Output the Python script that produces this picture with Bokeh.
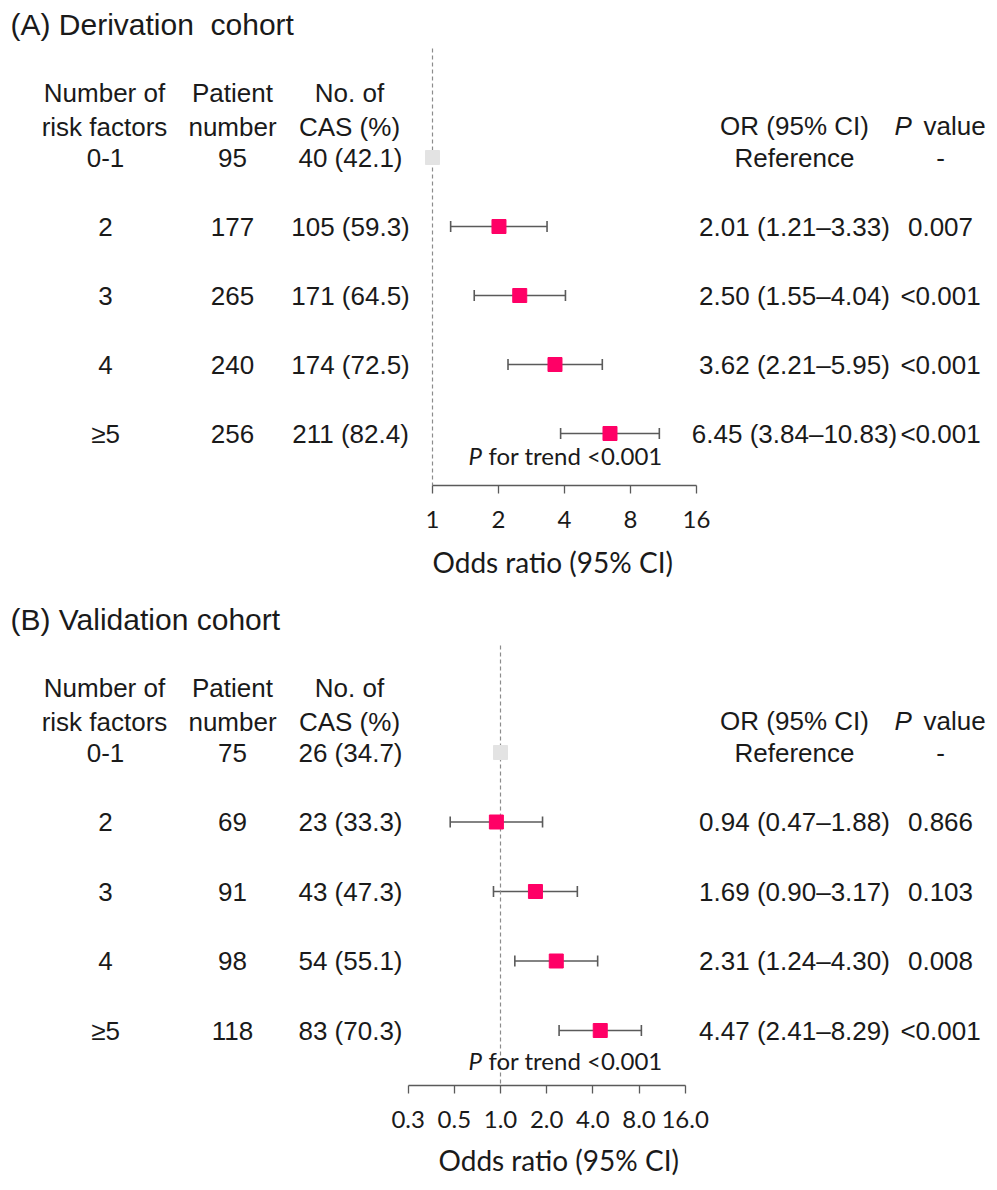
from bokeh.plotting import figure
from bokeh.layouts import column
from bokeh.models import (ColumnDataSource, Range1d, FixedTicker, Title,
                          CustomJSTickFormatter, Whisker, TeeHead)
from bokeh.core.properties import value
from bokeh.embed import file_html
from bokeh.resources import INLINE

# ---- data -------------------------------------------------------------
groups = ["0-1", "2", "3", "4", "≥5"]

der_patients = [95, 177, 265, 240, 256]
der_cas = [40, 105, 171, 174, 211]
der_cas_pct = [42.1, 59.3, 64.5, 72.5, 82.4]
der_or = [1.0, 2.01, 2.50, 3.62, 6.45]
der_lo = [None, 1.21, 1.55, 2.21, 3.84]
der_hi = [None, 3.33, 4.04, 5.95, 10.83]
der_p = ["-", "0.007", "<0.001", "<0.001", "<0.001"]

val_patients = [75, 69, 91, 98, 118]
val_cas = [26, 23, 43, 54, 83]
val_cas_pct = [34.7, 33.3, 47.3, 55.1, 70.3]
val_or = [1.0, 0.94, 1.69, 2.31, 4.47]
val_lo = [None, 0.47, 0.90, 1.24, 2.41]
val_hi = [None, 1.88, 3.17, 4.30, 8.29]
val_p = ["-", "0.866", "0.103", "0.008", "<0.001"]

der_ticks = [1, 2, 4, 8, 16]
val_ticks = [0.25, 0.5, 1, 2, 4, 8, 16]

# ---- styling / layout constants --------------------------------------
W = 997
ROW0 = 157          # pixel offset of the first row from the panel top
ARIAL = "Liberation Sans"
CAL = "Lato"
TXT = "#1a1a1a"
BODY = "26px"
PINK = "#ff0066"
REF_GREY = "#e3e3e3"
BAR = "#5a5a5a"


def panel(title, patients, cas, pct, ors, lo, hi, pvals, ticks, tick_code,
          one_px, px_per_doubling, frame_h, border_b, row_px, trend_px,
          dash_px, label_left, label_standoff):
    lo2 = -one_px / px_per_doubling
    hi2 = (W - one_px) / px_per_doubling

    def sx(px):
        # data x for a horizontal pixel position in the frame
        return 2 ** (lo2 + px / px_per_doubling)

    def ry(px):
        # row coordinate for a vertical pixel position in the frame
        return (px - ROW0) / row_px

    y_bottom = ry(frame_h)
    p = figure(frame_width=W, frame_height=frame_h, x_axis_type="log",
               x_range=Range1d(2 ** lo2, 2 ** hi2),
               y_range=Range1d(y_bottom, ry(0)),
               y_axis_location=None, output_backend="svg",
               toolbar_location=None, min_border_left=0, min_border_right=0,
               min_border_top=0, min_border_bottom=border_b,
               outline_line_color=None, background_fill_color="white")
    p.grid.visible = False

    rows = list(range(len(groups)))

    # reference line at OR = 1
    p.segment(x0=[1], x1=[1], y0=[ry(dash_px)], y1=[y_bottom],
              line_color="#8c8c8c", line_width=1.2, line_dash="4 3")

    # confidence intervals
    ci_rows = [r for r in rows if lo[r] is not None]
    ci = ColumnDataSource(dict(y=ci_rows, lo=[lo[r] for r in ci_rows],
                               hi=[hi[r] for r in ci_rows]))
    whisk = Whisker(base="y", lower="lo", upper="hi", dimension="width",
                    source=ci, line_color=BAR, line_width=1.6,
                    upper_head=TeeHead(size=11, line_color=BAR, line_width=1.6),
                    lower_head=TeeHead(size=11, line_color=BAR, line_width=1.6))
    p.add_layout(whisk)

    # point estimates
    colors = [REF_GREY if lo[r] is None else PINK for r in rows]
    p.scatter(x=ors, y=rows, marker="square", size=14, fill_color=colors,
              line_color=colors)

    # table text
    def col(px, texts, ys, align="center", size=BODY, font=ARIAL, style="normal"):
        p.text(x=[sx(px)] * len(texts), y=ys, text=texts, text_font=value(font),
               text_font_size=size, text_font_style=style, text_align=align,
               text_baseline="middle", text_color=TXT)

    col(10, [title], [ry(24)], align="left", size="30px")
    col(104, ["Number of", "risk factors"], [ry(92), ry(126)])
    col(232, ["Patient", "number"], [ry(92), ry(126)])
    col(349, ["No. of", "CAS (%)"], [ry(92), ry(126)])
    col(794, ["OR (95% CI)"], [ry(125)])
    col(894, ["P"], [ry(125)], align="left", style="italic")
    col(923, ["value"], [ry(125)], align="left")

    or_text = ["Reference" if lo[r] is None else
               f"{ors[r]:.2f} ({lo[r]:.2f}–{hi[r]:.2f})" for r in rows]
    col(105, groups, rows)
    col(232, [str(v) for v in patients], rows)
    col(350, [f"{c} ({q:.1f})" for c, q in zip(cas, pct)], rows)
    col(794, or_text, rows)
    col(940, pvals, rows)

    # trend test
    col(468, ["P"], [ry(trend_px)], align="left", size="24px", font=CAL,
        style="italic")
    col(488, ["for trend <0.001"], [ry(trend_px)], align="left", size="24px",
        font=CAL)

    ax = p.xaxis[0]
    ax.ticker = FixedTicker(ticks=ticks)
    ax.bounds = (ticks[0], ticks[-1])
    ax.formatter = CustomJSTickFormatter(code=tick_code)
    ax.minor_tick_line_color = None
    ax.major_tick_in = 0
    ax.major_tick_out = 8
    ax.axis_line_color = BAR
    ax.axis_line_width = 1.3
    ax.major_tick_line_color = BAR
    ax.major_tick_line_width = 1.3
    ax.major_label_text_font = CAL
    ax.major_label_text_font_size = "24px"
    ax.major_label_text_color = TXT
    ax.major_label_standoff = 17

    # axis title, placed under the plotted scale rather than the frame centre
    p.add_layout(Title(text="Odds ratio (95% CI)", align="left",
                       offset=label_left, standoff=label_standoff,
                       text_font=CAL, text_font_size="28px",
                       text_font_style="normal", text_color=TXT), "below")
    return p


pa = panel("(A) Derivation\u00a0 cohort", der_patients, der_cas, der_cas_pct,
           der_or, der_lo, der_hi, der_p, der_ticks,
           "return tick.toFixed(0);",
           one_px=432, px_per_doubling=66, frame_h=485, border_b=110,
           row_px=69, trend_px=455, dash_px=48, label_left=432,
           label_standoff=24)

pb = panel("(B) Validation cohort", val_patients, val_cas, val_cas_pct,
           val_or, val_lo, val_hi, val_p, val_ticks,
           "return tick < 0.3 ? '0.3' : tick.toFixed(1);",
           one_px=500, px_per_doubling=46.17, frame_h=490, border_b=105,
           row_px=69.5, trend_px=465, dash_px=50, label_left=438,
           label_standoff=20)

layout = column(pa, pb, spacing=0)
open("out.html", "w").write(file_html(layout, INLINE))
